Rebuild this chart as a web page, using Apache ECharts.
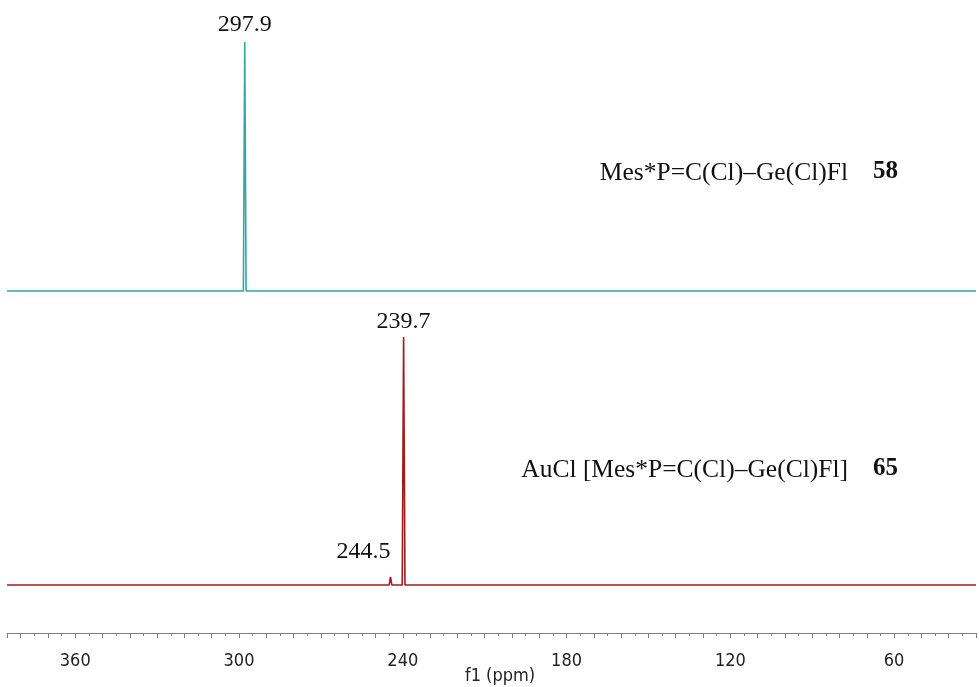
<!DOCTYPE html>
<html>
<head>
<meta charset="utf-8">
<script src="https://cdn.jsdelivr.net/npm/echarts@6/dist/echarts.min.js"></script>
<style>html,body{margin:0;padding:0;background:#fff}#c{width:979px;height:687px}</style>
</head>
<body>
<div id="c"></div>
<script>
// Spectrum of compound 58 (ppm, relative intensity)
const ppm58 = [385, 298.4, 297.9, 297.4, 30];
const int58 = [0, 0, 100, 0, 0];
// Spectrum of compound 65
const ppm65 = [385, 245.0, 244.5, 244.0, 240.2, 239.7, 239.2, 30];
const int65 = [0, 0, 3.3, 0, 0, 100, 0, 0];
// Peak labels
const peak58 = [297.9];
const peak65Main = [239.7];
const peak65Minor = [244.5];
// Axis
const xMin = 30, xMax = 385, tickStep = 10, labelStep = 60;
const label58 = 'Mes*P=C(Cl)–Ge(Cl)Fl';
const num58 = '58';
const label65 = 'AuCl [Mes*P=C(Cl)–Ge(Cl)Fl]';
const num65 = '65';
const xName = 'f1 (ppm)';

const teal = '#35a6a8';
const red = '#9e1b1f';
const serif = '"Liberation Serif", "Times New Roman", serif';
const sans = '"DejaVu Sans Condensed", "Liberation Sans", sans-serif';

function buildData(xs, ys, labels) {
  return xs.map((x, i) => {
    const d = { value: [x, ys[i]] };
    const lb = labels.find(l => l.ppm === x);
    if (lb) d.label = Object.assign({ show: true, formatter: lb.text }, lb.style);
    return d;
  });
}

const peakLabelStyle = { fontFamily: serif, fontSize: 24, color: '#111' };

const data58 = buildData(ppm58, int58, [
  { ppm: peak58[0], text: peak58[0].toFixed(1), style: Object.assign({ position: 'top', distance: 5 }, peakLabelStyle) }
]);
const data65 = buildData(ppm65, int65, [
  { ppm: peak65Main[0], text: peak65Main[0].toFixed(1), style: Object.assign({ position: 'top', distance: 3 }, peakLabelStyle) },
  { ppm: peak65Minor[0], text: peak65Minor[0].toFixed(1), style: Object.assign({ position: [0, -13], align: 'right', verticalAlign: 'bottom' }, peakLabelStyle) }
]);

const chart = echarts.init(document.getElementById('c'), null, { renderer: 'canvas' });
chart.setOption({
  animation: false,
  backgroundColor: '#fff',
  grid: [
    { left: 7, right: 3, top: 42, height: 249, outerBoundsMode: 'none', containLabel: false },
    { left: 7, right: 3, top: 337, height: 296, outerBoundsMode: 'none', containLabel: false }
  ],
  xAxis: [
    { gridIndex: 0, type: 'value', min: xMin, max: xMax, inverse: true, show: false },
    {
      gridIndex: 1, type: 'value', min: xMin, max: xMax, inverse: true, interval: tickStep,
      position: 'bottom',
      axisLine: { onZero: false, lineStyle: { color: '#7f7f7f', width: 1 } },
      axisTick: { show: true, length: 5, lineStyle: { color: '#7f7f7f' } },
      minorTick: { show: true, splitNumber: 2, length: 3, lineStyle: { color: '#7f7f7f' } },
      splitLine: { show: false },
      axisLabel: {
        interval: 0, margin: 19, color: '#222', fontSize: 18, fontFamily: sans,
        formatter: v => (v % labelStep === 0 ? String(v) : '')
      }
    }
  ],
  yAxis: [
    { gridIndex: 0, type: 'value', min: 0, max: 100, show: false },
    { gridIndex: 1, type: 'value', min: -19.35, max: 100, show: false }
  ],
  series: [
    {
      type: 'line', xAxisIndex: 0, yAxisIndex: 0, data: data58, symbol: 'circle', symbolSize: 0,
      showSymbol: true, itemStyle: { color: teal }, lineStyle: { color: teal, width: 1.6 }, clip: false,
      label: { show: false }, labelLayout: { hideOverlap: false }
    },
    {
      type: 'line', xAxisIndex: 1, yAxisIndex: 1, data: data65, symbol: 'circle', symbolSize: 0,
      showSymbol: true, itemStyle: { color: red }, lineStyle: { color: red, width: 1.6 }, clip: false,
      label: { show: false }, labelLayout: { hideOverlap: false }
    }
  ],
  graphic: [
    { type: 'text', right: 131, top: 160, style: { text: label58, font: '25.5px ' + serif, fill: '#111' } },
    { type: 'text', right: 81, top: 159, style: { text: num58, font: 'bold 25px ' + serif, fill: '#111' } },
    { type: 'text', right: 131, top: 457, style: { text: label65, font: '25.5px ' + serif, fill: '#111' } },
    { type: 'text', right: 81, top: 456, style: { text: num65, font: 'bold 25px ' + serif, fill: '#111' } },
    { type: 'text', x: 500, y: 676, style: { text: xName, font: '18px ' + sans, fill: '#222', align: 'center', verticalAlign: 'middle' } }
  ]
});
</script>
</body>
</html>
